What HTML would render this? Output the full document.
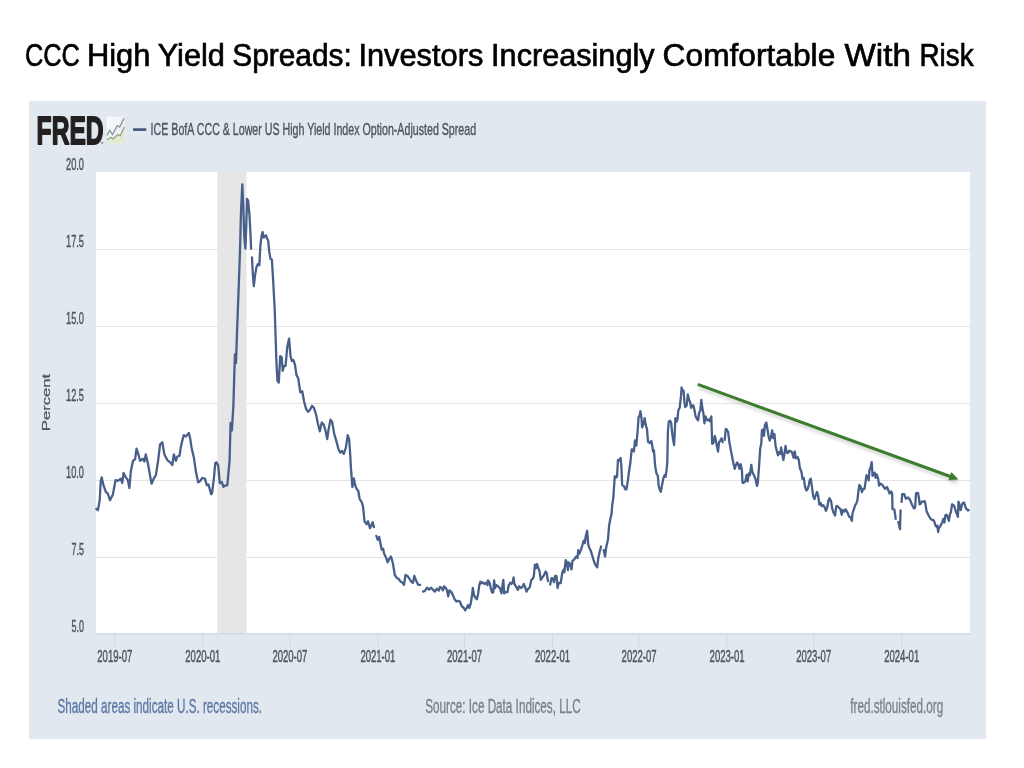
<!DOCTYPE html>
<html><head><meta charset="utf-8"><title>CCC High Yield Spreads</title>
<style>
html,body{margin:0;padding:0;background:#fff;}
body{width:1024px;height:768px;overflow:hidden;position:relative;}
svg{position:absolute;left:0;top:0;}
text{font-family:"Liberation Sans",Arial,sans-serif;}
</style></head><body>
<svg width="1024" height="768" viewBox="0 0 1024 768">
<g font-size="30.5" fill="#000" stroke="#000" stroke-width="0.65"><text x="25.00" y="65.5" textLength="54.94" lengthAdjust="spacingAndGlyphs">CCC</text><text x="86.98" y="65.5" textLength="63.48" lengthAdjust="spacingAndGlyphs">High</text><text x="157.66" y="65.5" textLength="67.30" lengthAdjust="spacingAndGlyphs">Yield</text><text x="232.22" y="65.5" textLength="119.60" lengthAdjust="spacingAndGlyphs">Spreads:</text><text x="358.40" y="65.5" textLength="124.90" lengthAdjust="spacingAndGlyphs">Investors</text><text x="491.12" y="65.5" textLength="163.44" lengthAdjust="spacingAndGlyphs">Increasingly</text><text x="662.64" y="65.5" textLength="172.66" lengthAdjust="spacingAndGlyphs">Comfortable</text><text x="844.60" y="65.5" textLength="66.28" lengthAdjust="spacingAndGlyphs">With</text><text x="919.42" y="65.5" textLength="54.22" lengthAdjust="spacingAndGlyphs">Risk</text></g>
<rect x="29" y="101" width="957" height="638" fill="#e1e8f0"/>
<rect x="96" y="172" width="874" height="461" fill="#fff"/>
<g stroke="#e4e4e4" stroke-width="1.2"><line x1="96" x2="970" y1="249.5" y2="249.5"/><line x1="96" x2="970" y1="326.5" y2="326.5"/><line x1="96" x2="970" y1="403.5" y2="403.5"/><line x1="96" x2="970" y1="480.5" y2="480.5"/><line x1="96" x2="970" y1="557.5" y2="557.5"/></g>
<rect x="217.3" y="172" width="29.2" height="461" fill="#e6e6e6"/>
<line x1="96" x2="970" y1="633.9" y2="633.9" stroke="#d2d7df" stroke-width="1.4"/>
<g stroke="#d3dae3" stroke-width="1"><line x1="114.8" x2="114.8" y1="633" y2="648"/><line x1="202.8" x2="202.8" y1="633" y2="648"/><line x1="289.9" x2="289.9" y1="633" y2="648"/><line x1="377.9" x2="377.9" y1="633" y2="648"/><line x1="464.5" x2="464.5" y1="633" y2="648"/><line x1="552.5" x2="552.5" y1="633" y2="648"/><line x1="639.1" x2="639.1" y1="633" y2="648"/><line x1="727.1" x2="727.1" y1="633" y2="648"/><line x1="813.7" x2="813.7" y1="633" y2="648"/><line x1="901.7" x2="901.7" y1="633" y2="648"/></g>
<g font-size="17" fill="#4f545c" stroke="#4f545c" stroke-width="0.45"><text x="84" y="169.7" text-anchor="end" textLength="18" lengthAdjust="spacingAndGlyphs">20.0</text><text x="84" y="246.7" text-anchor="end" textLength="18" lengthAdjust="spacingAndGlyphs">17.5</text><text x="84" y="323.7" text-anchor="end" textLength="18" lengthAdjust="spacingAndGlyphs">15.0</text><text x="84" y="400.7" text-anchor="end" textLength="18" lengthAdjust="spacingAndGlyphs">12.5</text><text x="84" y="477.7" text-anchor="end" textLength="18" lengthAdjust="spacingAndGlyphs">10.0</text><text x="84" y="554.7" text-anchor="end" textLength="12.5" lengthAdjust="spacingAndGlyphs">7.5</text><text x="84" y="631.7" text-anchor="end" textLength="12.5" lengthAdjust="spacingAndGlyphs">5.0</text></g>
<g font-size="16.8" fill="#4f545c" stroke="#4f545c" stroke-width="0.45"><text x="97.3" y="661.6" textLength="35" lengthAdjust="spacingAndGlyphs">2019-07</text><text x="185.3" y="661.6" textLength="35" lengthAdjust="spacingAndGlyphs">2020-01</text><text x="272.4" y="661.6" textLength="35" lengthAdjust="spacingAndGlyphs">2020-07</text><text x="360.4" y="661.6" textLength="35" lengthAdjust="spacingAndGlyphs">2021-01</text><text x="447.0" y="661.6" textLength="35" lengthAdjust="spacingAndGlyphs">2021-07</text><text x="535.0" y="661.6" textLength="35" lengthAdjust="spacingAndGlyphs">2022-01</text><text x="621.6" y="661.6" textLength="35" lengthAdjust="spacingAndGlyphs">2022-07</text><text x="709.6" y="661.6" textLength="35" lengthAdjust="spacingAndGlyphs">2023-01</text><text x="796.2" y="661.6" textLength="35" lengthAdjust="spacingAndGlyphs">2023-07</text><text x="884.2" y="661.6" textLength="35" lengthAdjust="spacingAndGlyphs">2024-01</text></g>
<text transform="translate(49.9,431.2) rotate(-90) scale(1,0.66)" font-size="16" fill="#4f545c" stroke="#4f545c" stroke-width="0.35" textLength="57.3" lengthAdjust="spacingAndGlyphs">Percent</text>
<!-- FRED logo -->
<text x="36.6" y="143.7" font-size="39.5" font-weight="bold" fill="#231f20" stroke="#231f20" stroke-width="1.8" stroke-linejoin="round" textLength="67" lengthAdjust="spacingAndGlyphs">FRED</text>
<circle cx="102.2" cy="142.8" r="1.1" fill="#8a8f96"/>
<defs><linearGradient id="ig" x1="0" y1="0" x2="1" y2="1"><stop offset="0" stop-color="#fbfcfd"/><stop offset="1" stop-color="#e3e9ec"/></linearGradient></defs>
<rect x="106.8" y="116.7" width="18" height="26.8" fill="url(#ig)"/>
<polygon points="107,139.7 110.8,137.3 113.1,139 117.8,134.5 120.2,135.9 124.4,127 124.6,143.3 107,143.3" fill="#e2eacf"/>
<polyline points="107,139.7 110.8,137.3 113.1,139 117.8,134.5 120.2,135.9 124.4,127" fill="none" stroke="#95a386" stroke-width="1.3"/>
<polyline points="107,135.4 109.8,130.3 112.4,134.5 117.3,125.6 119.7,127 124.1,118.1" fill="none" stroke="#8793a2" stroke-width="1.3"/>
<line x1="133" x2="146.3" y1="129.6" y2="129.6" stroke="#4b5f80" stroke-width="2.8"/>
<text x="150.6" y="135.3" font-size="16.8" fill="#50555e" stroke="#50555e" stroke-width="0.4" textLength="325.5" lengthAdjust="spacingAndGlyphs">ICE BofA CCC &amp; Lower US High Yield Index Option-Adjusted Spread</text>
<!-- data line -->
<path d="M96.4 508.8 L97.9 510.2 L99.7 500.2 L100.7 481.6 L101.7 477.3 L103.2 484.4 L105.7 491.6 L107.9 493.8 L110 500.2 L112.9 494.5 L115.5 480.2 L117.9 480.9 L120.8 478.7 L122.2 483 L123.6 473 L125.8 477.3 L127.9 480.2 L129.4 488 L130.8 471.6 L133 460.8 L135.1 459.4 L136.5 448.7 L138 453 L140.1 460.8 L143 458.7 L144.4 461.5 L145.8 454.4 L148 463.7 L150.1 475.9 L151.6 483.7 L153.7 478.7 L155.9 475.1 L158 461.5 L160.1 444.4 L162.3 442.2 L164.4 454.4 L167.3 460.1 L170.2 462.3 L172.3 465.1 L173.8 454.4 L175.9 460.8 L177.3 456.5 L179.5 455.8 L180.9 446.5 L182.3 440.8 L183.8 435.1 L185.9 436.5 L188.8 432.9 L190.2 438.6 L191.6 447.9 L193.8 457.2 L195.9 471.6 L198.1 482.3 L200 481.2 L202.3 478 L204.9 478.6 L206.8 485.1 L208.5 484.5 L211.1 494.2 L212 493.6 L214 477.3 L215.3 463 L216.6 462.4 L218.2 465.6 L219.8 483.2 L221.8 481.9 L223.4 486.8 L225.4 485.5 L227.3 485.1 L228.3 474.7 L229.6 459.8 L230.6 423 L231.9 430.5 L233.4 405.3 L234.9 354.4 L236 363.2 L237.1 330 L238.7 287.3 L240.1 247.5 L240.9 214.3 L242.3 184.4 L243.2 203.2 L244.3 236.4 L245.4 248.6 L246.3 225.4 L247.1 198.8 L248.2 201 L249.4 214.3 L250.5 234.2 L251.1 248.6 M252 257.5 L252.7 271.8 L253.8 286.2 L254.9 276.3 L256.4 267.4 L257.8 264.1 L259.3 265.2 L260.4 245.3 L261.5 236.4 L262.6 232 L263.7 237.5 L264.9 236.4 L266 235.3 L267.1 238.6 L268.2 240.8 L269.3 251.9 L270.4 258.6 L271.9 259.7 L273.3 282.9 L274.8 311.7 L276.3 359 L277.4 380.5 L278.8 382.5 L280.2 356.1 L281.7 357.1 L282.7 370.8 L284.1 365.9 L285.6 365.9 L287.2 347.3 L289.1 338.6 L290.5 356.1 L291.9 361 L293.4 360 L295 364.9 L296.4 374.7 L298.3 378.6 L300.3 392.3 L302.2 391.3 L304.2 402 L306.1 408.9 L308.1 411.8 L310 409.8 L312 405.9 L313.9 407.9 L315.9 413.8 L317.9 423.5 L319.8 431.3 L321.8 422.5 L323.7 424.5 L325.7 431.3 L327.2 439.1 L328.6 429.4 L330.5 419.6 L332.1 421.6 L334.1 433.3 L336.4 441.1 L338.4 448.9 L340.3 452.8 L341.9 450.9 L343.8 453.8 L345.8 447.9 L347.7 435.2 L349.1 439.1 L350.1 452.8 L350.9 467.6 L352.4 487.1 L353.8 478.3 L355.2 485.2 L356.7 489.1 L358.3 491 L359.6 498.8 L361.6 501.8 L363 506.6 L364.5 521.3 L366.5 524.2 L368 521.3 L370 528.1 L371.4 525.2 L372.7 522.3 L373.9 527.1 M376.3 535.9 L377.8 539.8 L379.2 536.9 L380.5 543.8 L381.7 549.6 L383.1 548.6 L384.1 553.5 L386 557.4 L387.6 562.3 L389 559.4 L390.9 556.4 L392.9 563.3 L394.8 575 L396.8 577.9 L398.7 578.9 L400.7 581.8 L402.6 582.8 L404 584.8 L405.5 575 L407.5 576 L409.5 578.9 L411.4 581.8 L413 582.8 L414.3 576 L416.3 580.9 L418.2 584.8 L420.2 584.8 M423.1 591.6 L425.1 590.6 L427 587.7 L429 589.6 L430.9 587.7 L432.9 589.6 L434.8 591.6 L436.8 588.7 L438.8 590.6 L440 586.9 L441.8 588 L442.9 590.4 L444.1 586.3 L445.9 588 L447 590.4 L448.2 596.3 L449.4 590.4 L451.1 591.6 L452.9 595.1 L454.6 599.2 L456.4 601.5 L458.2 600.9 L459.9 601.5 L461.7 606.2 L463.4 607.4 L465.2 610.3 L467 607.4 L468.1 605 L469.3 608 L470.7 603.9 L471.9 596.3 L472.8 588 L474 595.1 L475.2 597.4 L476.9 599.2 L478.1 593.9 L479.3 585.1 L480.4 581.6 L481.6 583.4 L482.8 582.2 L484.5 584 L486.3 582.8 L487.5 585.1 L488 580.4 L489.8 583.4 L491 589.2 L492.2 592.7 L493.3 592.2 L494.1 580.4 L495.1 588 L496.3 585.1 L498 586.3 L499.8 588 L501.5 593.3 L502.3 586.9 L503.3 579.8 L504.2 593.3 L505.6 592.2 L507.4 592.2 L508.6 585.7 L510.3 582.8 L511.5 583.9 L512.7 582.2 L513.6 577.5 L514.4 583.9 L516.2 586.9 L517.9 589.8 L519.1 586.3 L520.9 588 L522 587.5 L523.8 584 L525 586.9 L526.5 591.6 L527.9 589.2 L529.7 587.5 L531.4 579.8 L532.8 578.7 L533.8 576.3 L534.9 564.6 L536.1 568.1 L537 564 L538.4 568.1 L539.6 571.6 L540.8 579.8 L542.2 577.5 L543.7 575.7 L545.5 571.6 L546.6 572.8 L548 581 M550.2 584.5 L551.6 578.1 L553.1 578.7 L553.9 582.2 L555.2 576 L556.4 575.9 L557.6 588 L558.6 583 L560.7 583 L562.2 573 L563.6 569.4 L564.3 572.3 L565.7 560.1 L566.7 562.3 L567.9 570.1 L568.6 562.3 L570 563.7 L571.5 569.4 L572.5 560.8 L574.3 559.4 L576.2 556.5 L577.6 558 L578.2 550.1 L579.3 553.7 L580.8 550.1 L582.2 545.8 L583.6 540.8 L584.8 543 L585.8 535.8 L587.2 530.8 L588.2 544.4 L589.3 548 L590.8 550.8 L592.5 556.5 L593.6 560.1 L595.1 564.4 L597.2 567.3 L598.2 558.7 L599.7 551.5 L601.1 546.5 M603.7 550.1 L605.1 556.5 L606.2 547.2 L608 539.4 L609.1 525.8 L610.1 520.1 L611.5 514.3 L612.2 505.7 L613.4 497.2 L613.9 488.6 L614.8 476.2 L616.1 477.5 L617 476.9 L618 459.9 L619.3 460.6 L620.6 458 L621.3 465.1 L622.2 485.3 L623.9 486 L625.2 489.3 L626.5 489.3 L627.8 480.8 L629.1 471 L630.4 462.5 L631.7 449.5 L633 449.5 L633.9 451.5 L635 440.4 L636.3 445.6 L637.6 431.3 L638.6 416.9 L639.5 416.3 L640.4 411.1 L641.5 418.2 L642.1 427.4 L643.4 424.1 L644.7 418.2 L645.7 424.8 L647 429.3 L648 441.7 L650 443 L651.3 441 L652.2 445 L653 451.5 L653.9 450.2 L655.2 466.4 L656.5 473.6 L657.8 475.6 L658.7 486 L659.7 489.3 L660.8 491.9 L662.1 484.7 L663.4 478.2 L664.7 474.9 L665.6 476.9 L666.5 470.4 L667.3 462.5 L667.9 431.3 L668.8 421.5 L670.1 420.8 L671.2 422.8 L672.1 432.6 L673 439.1 L674.1 445 L674.7 433.9 L675.4 418.2 L676.3 421.9 L677.3 420.3 L678.4 410.2 L679.7 407.8 L680.9 396.9 L681.6 387.5 L682.5 390.6 L683.6 390.6 L684.4 401.6 L685.2 407 L686.7 405.5 L687.8 394.5 L689.1 400 L690.2 402.3 L691.1 407.8 L692.2 405.5 L693.4 405.5 L694.5 410.2 L695.6 416.4 L696.9 418.8 L698.1 420.3 L699.2 412.5 L700.3 410.9 L701.3 400 L702.3 407.8 L703.4 413.3 L704.4 423.4 L705.5 416.4 L707 420.3 L708.6 419.5 L709.7 421.1 L711.3 416.4 L712.2 443.8 L713.3 443 L714.8 435.9 L715.9 440.6 L716.9 446.1 L718 451.6 L719.1 442.2 L720.3 440.6 L721.6 438.3 L722.7 442.2 M724.7 439.8 L725.8 428.9 L726.9 429.7 L728.1 432 L729.4 442.2 L730.5 448.4 L732 456.3 L733.6 464.1 L734.7 468.8 L735.9 464.8 L737.2 462.5 L738.3 464.8 L739.4 468.8 L740.6 464.1 L741.9 470.3 L742.5 482.8 L743.8 482.8 L745.3 481.3 L746.6 475 L747.7 481.3 L748.8 473.4 L750 475 L751.3 464.8 L752.3 471.9 L753.9 475 L755.5 478.9 L757 485.9 L757.8 482.8 L759.1 465.6 L760.2 448.4 L761.3 443.6 L761.9 430.3 L763.1 429.5 L763.9 435.8 L765 424.8 L766.3 422.5 L767.5 429.5 L768.6 436.6 L769.7 440.5 L770.9 437.3 L772.2 430.3 L773.3 438.1 L774.4 434.2 L775.6 445.9 L776.9 451.4 L778 455.3 L779.1 452.2 L780.3 453.8 L781.1 447.5 L782.2 453.8 L783.4 460 L784.7 452.2 L785.5 445.9 L786.6 452.2 L787.8 453 L789.4 450.6 L790.9 451.4 L792 452.2 L793.6 457.7 L794.7 451.4 L795.9 458.4 L797.5 456.9 L798.8 460 L799.8 467.8 L801.4 471.7 L802.5 478.8 L803.8 478 L805 486.6 L806.4 490.5 L807.7 488.9 L808.8 485 L809.7 480.3 L810.8 478.8 L811.9 486.6 L813.1 495.9 L814.4 499.1 L815.5 495.9 L817 492 L818.1 495.2 L819.4 504.5 L820.6 503 L821.7 506.1 L823.3 505.3 L824.8 507.7 L825.9 510.8 L827.2 507.7 L828.4 500.6 L829.5 498.3 L831.1 501.4 L832.2 508.4 L833.4 512.3 L835 515.5 L836.3 506.1 L837.3 506.1 L838.9 507.7 L840.5 509.2 L841.7 514.7 L842.8 510 L844.4 511.6 L845.6 509.2 L846.6 511 L847.9 513.6 L849.2 516.9 L850.5 516.9 L851.8 520.8 L852.6 513 L853.9 509.1 L855.2 505.1 L856.1 503.8 L857.4 500.6 L858.3 492.1 L859.3 485 L860.6 486.3 L861.9 492.1 L863.2 488.9 L864.5 488.9 L865.6 481.7 L866.5 475.2 L867.8 476.5 L868.7 480.4 L869.5 470 L870.4 468 L871.7 462.2 L872.6 475.8 L873.7 474.5 L874.7 472.6 L875.6 477.8 L876.9 474.5 L878.2 479.1 L879.1 485.6 L880.2 483.6 L881.7 484.3 L883.4 486.3 L885 488.9 L887 487 L889.6 493.5 L891.2 491.5 L892.2 493.5 L892.5 509.1 L894.4 509.7 L895.7 518.8 M898.3 522.1 L900 529.2 L900.6 510.4 M901.6 501.9 L902.2 494.1 L904.2 494.1 L905.8 498.7 L908.1 497.4 L909.7 499.3 L912.3 505.2 L914 508.4 L915.1 507.8 L916 493.4 L917.3 492.8 L918.1 493.3 L919 498.5 L919.7 504.3 L920.7 503.8 L921.8 501.7 L923.1 501.7 L924.6 501.1 L925.4 503.8 L926.5 511 L927.7 513.6 L929.1 516.3 L930.6 518.9 L931.9 519.9 L933.2 519.9 L934.3 521.5 L935.3 525.1 L936.4 526.7 L937.4 525.6 L938.1 531.9 L939 527.7 L940 526.7 L941.3 524.1 L942.3 522.5 L943.3 518.9 L944.4 522.5 L945.4 515.2 L946.5 514.7 L947.8 517.3 L948.9 520.9 L949.9 514.2 L950.9 512.1 L952 504.3 L953 504.8 L954.1 505.8 L955.1 509 L956.1 512.1 L957.2 514.7 L957.9 516.8 L958.5 501.7 L959.3 503.8 L960 509.5 L960.8 510 L961.9 504.8 L963.1 502.7 L964 502.7 L964.8 504.8 L965.8 507.9 L966.9 509.5 L967.9 510.5 L968.6 510" fill="none" stroke="#485f8a" stroke-width="2.3" stroke-linejoin="round" stroke-linecap="round"/>
<!-- green arrow -->
<defs><filter id="sh" x="-5%" y="-20%" width="110%" height="160%"><feGaussianBlur stdDeviation="1.6"/></filter></defs>
<g opacity="0.22" filter="url(#sh)" transform="translate(1.5,3.5)"><line x1="697.8" y1="384.4" x2="951" y2="476.8" stroke="#555" stroke-width="3.2"/><polygon points="951.5,472.4 957.8,479.2 948.8,480.1" fill="#555"/></g>
<line x1="697.8" y1="384.4" x2="951" y2="476.8" stroke="#3c7d30" stroke-width="3.1" stroke-linecap="butt"/>
<polygon points="951.5,472.4 957.8,479.2 948.8,480.1" fill="#3c7d30" stroke="#3c7d30" stroke-width="0.6" stroke-linejoin="round"/>
<!-- footer -->
<text x="57.5" y="712.8" font-size="19.5" fill="#5d78a3" stroke="#5d78a3" stroke-width="0.35" textLength="204.5" lengthAdjust="spacingAndGlyphs">Shaded areas indicate U.S. recessions.</text>
<text x="425.2" y="712.8" font-size="19.5" fill="#7b8089" stroke="#7b8089" stroke-width="0.35" textLength="155.5" lengthAdjust="spacingAndGlyphs">Source: Ice Data Indices, LLC</text>
<text x="850.3" y="712.5" font-size="19.5" fill="#7b8089" stroke="#7b8089" stroke-width="0.35" textLength="92.9" lengthAdjust="spacingAndGlyphs">fred.stlouisfed.org</text>
</svg>
</body></html>
